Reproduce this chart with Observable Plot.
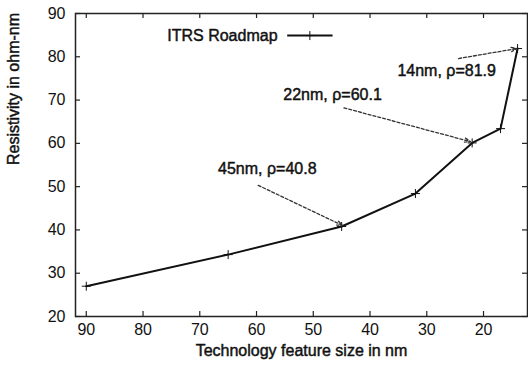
<!DOCTYPE html>
<html>
<head>
<meta charset="utf-8">
<script src="https://cdn.jsdelivr.net/npm/d3@7"></script>
<script src="https://cdn.jsdelivr.net/npm/@observablehq/plot@0.6"></script>
<style>
  html, body { margin: 0; padding: 0; background: #fff; }
  #chart { width: 528px; height: 369px; }
</style>
</head>
<body>
<div id="chart"></div>
<script>
// Data
const featureSize = [90, 65, 45, 32, 22, 17, 14];
const resistivity = [27.0, 34.3, 40.8, 48.4, 60.1, 63.4, 81.9];
const seriesName = "ITRS Roadmap";

const xTicks = [90, 80, 70, 60, 50, 40, 30, 20];
const yTicks = [20, 30, 40, 50, 60, 70, 80, 90];

// Annotations (data units)
const noteText = ["45nm, ρ=40.8", "22nm, ρ=60.1", "14nm, ρ=81.9"];
const noteX = [58.1, 46.6, 26.5];
const noteY = [54.0, 71.1, 76.8];
const arrowX1 = [59.7, 44.6, 24.4];
const arrowY1 = [50.3, 68.2, 79.6];
const arrowX2 = [44.8, 22.3, 14.1];
const arrowY2 = [41.0, 60.4, 81.9];

const xTitle = "Technology feature size in nm";
const yTitle = "Resistivity in ohm-nm";

const points = featureSize.map((x, i) => ({x, y: resistivity[i]}));
const notes = noteText.map((t, i) => ({t, x: noteX[i], y: noteY[i], x1: arrowX1[i], y1: arrowY1[i], x2: arrowX2[i], y2: arrowY2[i]}));

const font = "Liberation Sans, Arial, Helvetica, sans-serif";
const ink = "#111";
const W = 528, H = 369;
const mL = 75, mR = 1, mT = 13, mB = 53;
const fw = W - mL - mR, fh = H - mT - mB;
const fs = 16;
const heavy = {fill: ink, stroke: ink, strokeWidth: 0.45};

const chart = Plot.plot({
  width: W,
  height: H,
  marginLeft: mL,
  marginRight: mR,
  marginTop: mT,
  marginBottom: mB,
  style: {fontFamily: font, color: ink, background: "#fff", overflow: "visible"},
  x: {domain: [91.9, 12.25], type: "linear"},
  y: {domain: [20, 90]},
  marks: [
    Plot.frame({stroke: "#222", strokeWidth: 1.5}),
    // inward ticks: bottom, top, left, right
    Plot.tickX(xTicks, {x: d => d, stroke: "#222", strokeWidth: 1.2, insetTop: fh - 5}),
    Plot.tickX(xTicks, {x: d => d, stroke: "#222", strokeWidth: 1.2, insetBottom: fh - 5}),
    Plot.tickY(yTicks, {y: d => d, stroke: "#222", strokeWidth: 1.2, insetRight: fw - 5}),
    Plot.tickY(yTicks, {y: d => d, stroke: "#222", strokeWidth: 1.2, insetLeft: fw - 5}),
    Plot.axisX({ticks: xTicks, tickSize: 0, tickPadding: 7, fontSize: fs, label: null, tickFormat: d => String(d), ...heavy}),
    Plot.axisY({ticks: yTicks, tickSize: 0, tickPadding: 10, fontSize: fs, label: null, tickFormat: d => String(d), ...heavy}),
    // axis titles
    Plot.text([xTitle], {text: d => d, frameAnchor: "bottom", dy: 39, fontSize: fs, ...heavy}),
    Plot.text([yTitle], {text: d => d, frameAnchor: "left", dx: -62, rotate: -90, fontSize: fs, ...heavy}),
    // data line
    Plot.line(points, {x: "x", y: "y", stroke: ink, strokeWidth: 2}),
    Plot.dot(points, {x: "x", y: "y", symbol: "plus", r: 3, stroke: ink, strokeWidth: 1}),
    // annotations
    Plot.arrow(notes, {x1: "x1", y1: "y1", x2: "x2", y2: "y2", stroke: "#333", strokeWidth: 1.3, strokeDasharray: "3,2", headLength: 7, headAngle: 40}),
    Plot.text(notes, {x: "x", y: "y", text: "t", fontSize: fs, ...heavy}),
    // legend
    Plot.text([seriesName], {text: d => d, x: 56.3, y: 84.9, textAnchor: "end", fontSize: fs, ...heavy}),
    Plot.link([0], {x1: 54.6, x2: 46.6, y1: 84.9, y2: 84.9, stroke: ink, strokeWidth: 2}),
    Plot.dot([0], {x: 50.6, y: 84.9, symbol: "plus", r: 3, stroke: ink, strokeWidth: 1})
  ]
});
document.getElementById("chart").appendChild(chart);
</script>
</body>
</html>
